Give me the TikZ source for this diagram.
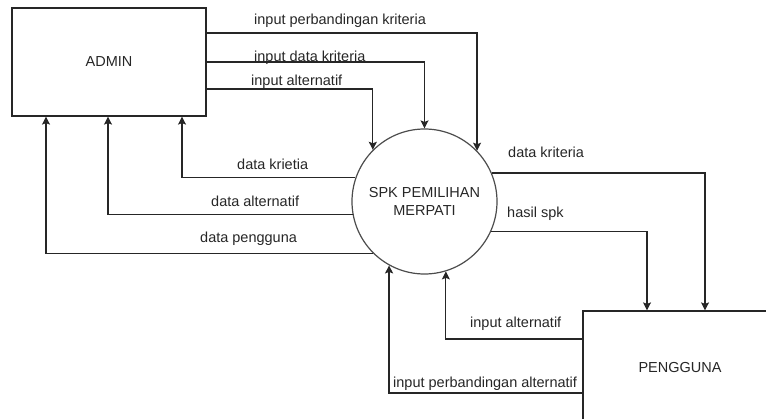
\documentclass[tikz,border=0pt]{standalone}
\usepackage{fontspec}
\setmainfont{Liberation Sans}
\usetikzlibrary{arrows.meta}
\tikzstyle{entity}=[rectangle,draw=black!85,line width=1.2pt,minimum width=194pt,minimum height=108pt,inner sep=0pt,text=black!85]
\tikzstyle{process}=[circle,draw=black!70,line width=1.2pt,minimum size=145pt,inner sep=0pt,align=center,text=black!85]
\tikzstyle{edge} = [draw,line width=1.2pt,black!85,-{Stealth[length=8pt,width=8pt,inset=1.5pt]}]
\tikzstyle{flow} = [text=black!85,inner sep=0pt,anchor=base west]

\begin{document}
\begin{tikzpicture}[x=1pt,y=-1pt,font=\fontsize{14.5}{18}\selectfont]
    \useasboundingbox (0,0) rectangle (766,419);
    \clip (0,0) rectangle (766,419);

    \node[entity] (admin) at (109,62) {ADMIN};
    \node[process] (spk) at (424.5,201.5) {SPK PEMILIHAN\\MERPATI};
    \node[entity,minimum height=118pt,text depth=6pt] (pengguna) at (680,370) {PENGGUNA};

    % admin -> spk
    \foreach \y/\a in {33/44, 62/90, 89/135}
        \draw[edge] (admin.east |- 0,\y) -| (spk.\a);
    % spk -> admin
    \foreach \a/\x in {161/182, 190/108, 225/46}
        \draw[edge] (spk.\a) -| (admin.south -| \x,0);
    % spk -> pengguna
    \foreach \a/\x in {23/705, 336/647}
        \draw[edge] (spk.\a) -| (pengguna.north -| \x,0);
    % pengguna -> spk
    \foreach \y/\a in {339/287, 393/241}
        \draw[edge] (pengguna.west |- 0,\y) -| (spk.\a);

    % flow labels
    \foreach \pos/\name/\txt in {{(254,25)/ipkrit/input perbandingan kriteria}, {(254,62)/idkrit/input data kriteria},
        {(251,86)/ialt/input alternatif}, {(237,170)/dkrietia/data krietia}, {(211,206.5)/dalt/data alternatif},
        {(200,243)/dpeng/data pengguna}, {(508,158)/dkrit/data kriteria}, {(507,218)/hspk/hasil spk},
        {(470,328)/ialtp/input alternatif}, {(393,388)/ipalt/input perbandingan alternatif}}
        \node[flow] (\name) at \pos {\txt};

\end{tikzpicture}
\end{document}
